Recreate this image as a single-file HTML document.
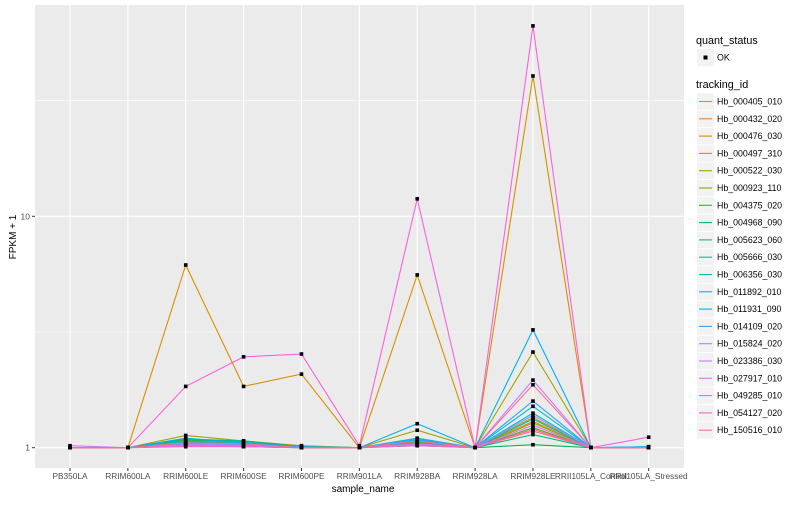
<!DOCTYPE html>
<html><head><meta charset="utf-8"><style>
body{margin:0;background:#fff;font-family:"Liberation Sans",sans-serif}
svg text{font-family:"Liberation Sans",sans-serif}
</style></head><body>
<svg id="chart" width="800" height="500">
<rect x="0" y="0" width="800" height="500" fill="#fff"/>
<rect x="35" y="5" width="649" height="463" fill="#EBEBEB"/>
<g id="grid"></g><g id="lines"></g><g id="pts"></g><g id="axes"></g><g id="legend"></g>
</svg>
<script>
const categories=["PB350LA","RRIM600LA","RRIM600LE","RRIM600SE","RRIM600PE","RRIM901LA","RRIM928BA","RRIM928LA","RRIM928LE","RRII105LA_Control","RRII105LA_Stressed"];
const ids=["Hb_000405_010","Hb_000432_020","Hb_000476_030","Hb_000497_310","Hb_000522_030","Hb_000923_110","Hb_004375_020","Hb_004968_090","Hb_005623_060","Hb_005666_030","Hb_006356_030","Hb_011892_010","Hb_011931_090","Hb_014109_020","Hb_015824_020","Hb_023386_030","Hb_027917_010","Hb_049285_010","Hb_054127_020","Hb_150516_010"];
const colors=["#F8766D","#EA8331","#D89000","#C09B00","#A3A500","#7CAE00","#39B600","#00BB4E","#00BF7D","#00C1A3","#00BFC4","#00BAE0","#00B0F6","#35A2FF","#9590FF","#C77CFF","#E76BF3","#FA62DB","#FF62BC","#FF6C91"];
const s0=[1.0,1,1.03,1.02,1.0,1,1.05,1,1.18,1,1];
const s1=[1.0,1,1.04,1.03,1.01,1,1.04,1,1.3,1,1];
const s2=[1.0,1,6.16,1.84,2.08,1,5.58,1,40.4,1,1];
const s3=[1.0,1,1.06,1.05,1.01,1,1.08,1,1.35,1,1];
const s4=[1.0,1,1.13,1.07,1.02,1,1.19,1,2.59,1,1];
const s5=[1.0,1,1.05,1.03,1.0,1,1.06,1,1.28,1,1];
const s6=[1.0,1,1.08,1.06,1.01,1,1.07,1,1.22,1,1];
const s7=[1.0,1,1.02,1.01,1.0,1,1.02,1,1.03,1,1];
const s8=[1.0,1,1.09,1.07,1.01,1,1.04,1,1.14,1,1];
const s9=[1.0,1,1.07,1.06,1.0,1,1.05,1,1.33,1,1];
const s10=[1.0,1,1.06,1.04,1.0,1,1.10,1,1.51,1,1.01];
const s11=[1.0,1,1.05,1.05,1.0,1,1.08,1,1.41,1,1];
const s12=[1.0,1,1.10,1.05,1.01,1,1.27,1,3.23,1,1.01];
const s13=[1.0,1,1.04,1.03,1.0,1,1.09,1,1.59,1,1];
const s14=[1.0,1,1.03,1.04,1.0,1,1.03,1,1.38,1,1];
const s15=[1.02,1,1.03,1.02,1.0,1,1.04,1,1.96,1,1];
const s16=[1.0,1,1.02,1.01,1.0,1,1.03,1,1.25,1,1];
const s17=[1.0,1,1.84,2.47,2.54,1.02,11.9,1,66.5,1,1.11];
const s18=[1.0,1,1.01,1.01,1.0,1,1.02,1,1.2,1,1];
const s19=[1.0,1,1.05,1.04,1.0,1,1.07,1,1.87,1,1];
const series=[s0,s1,s2,s3,s4,s5,s6,s7,s8,s9,s10,s11,s12,s13,s14,s15,s16,s17,s18,s19];
const yTicks=[1,10];const yTickLabels=["1","10"];
const NS="http://www.w3.org/2000/svg";
function mk(t,a,p){const e=document.createElementNS(NS,t);for(const k in a)e.setAttribute(k,a[k]);p.appendChild(e);return e;}
const x=i=>70+i*57.87;
const y=v=>447.7-Math.log10(v)*231.4;
const G=document.getElementById('grid'),L=document.getElementById('lines'),P=document.getElementById('pts'),A=document.getElementById('axes'),LG=document.getElementById('legend');
[Math.sqrt(10),Math.sqrt(1000)].forEach(v=>{const l=mk('line',{x1:35,x2:684,y1:y(v),y2:y(v),stroke:'#fff','stroke-width':0.6},G);});
yTicks.forEach((v,i)=>{const l=mk('line',{x1:35,x2:684,y1:y(v),y2:y(v),stroke:'#fff','stroke-width':1.1},G);
const t=mk('line',{x1:32,x2:35,y1:y(v),y2:y(v),stroke:'#333','stroke-width':1},A);
const tx=mk('text',{x:30,y:y(v)+3,'text-anchor':'end','font-size':8.5,fill:'#4D4D4D'},A);tx.textContent=yTickLabels[i];});
categories.forEach((c,i)=>{const l=mk('line',{x1:x(i),x2:x(i),y1:5,y2:468,stroke:'#fff','stroke-width':1.1},G);
const t=mk('line',{x1:x(i),x2:x(i),y1:468,y2:471,stroke:'#333','stroke-width':1},A);
const tx=mk('text',{x:x(i),y:479,'text-anchor':'middle','font-size':8.3,fill:'#4D4D4D'},A);tx.textContent=c;});
series.forEach((s,k)=>{const pl=mk('polyline',{points:s.map((v,i)=>x(i)+','+y(v)).join(' '),fill:'none',stroke:colors[k],'stroke-width':1.1},L);
s.forEach((v,i)=>{const r=mk('rect',{x:x(i)-1.8,y:y(v)-1.8,width:3.6,height:3.6,fill:'#000'},P);});});
let t=mk('text',{x:363,y:492,'text-anchor':'middle','font-size':10,fill:'#000'},A);t.textContent='sample_name';
t=mk('text',{x:0,y:0,transform:'translate(16,237) rotate(-90)','text-anchor':'middle','font-size':10,fill:'#000'},A);t.textContent='FPKM + 1';
t=mk('text',{x:696,y:44,'font-size':10.8,fill:'#000'},LG);t.textContent='quant_status';
let b=mk('rect',{x:697,y:49,width:17,height:17,fill:'#F2F2F2'},LG);
b=mk('rect',{x:703.5,y:55.5,width:4,height:4,fill:'#000'},LG);
t=mk('text',{x:717,y:60.5,'font-size':8.8,fill:'#000'},LG);t.textContent='OK';
t=mk('text',{x:696,y:88,'font-size':10.8,fill:'#000'},LG);t.textContent='tracking_id';
ids.forEach((id,k)=>{const yy=93+k*17.3;
const r=mk('rect',{x:697,y:yy+0.5,width:17,height:16.3,fill:'#F2F2F2'},LG);
const l=mk('line',{x1:699,x2:712,y1:yy+8.5,y2:yy+8.5,stroke:colors[k],'stroke-width':1.1},LG);
const tx=mk('text',{x:717,y:yy+11.5,'font-size':8.8,fill:'#000'},LG);tx.textContent=id;});
</script>
</body></html>
